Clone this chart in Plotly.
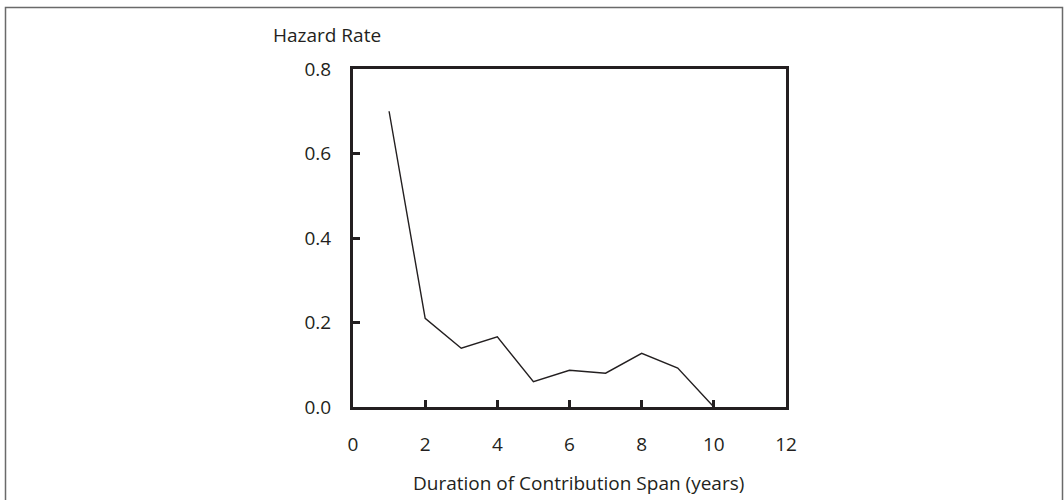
import plotly.graph_objects as go

years = [1, 2, 3, 4, 5, 6, 7, 8, 9, 10]
hazard = [0.70, 0.21, 0.139, 0.166, 0.060, 0.087, 0.080, 0.127, 0.092, 0.0]
x_ticks = [0, 2, 4, 6, 8, 10, 12]
y_ticks = [0.0, 0.2, 0.4, 0.6, 0.8]

W, H = 1064, 500
L, R, T, B = 353, 786, 69, 407
pw, ph = R - L, B - T
ink = "#231f20"
font = "Open Sans, Noto Sans, sans-serif"
fs = 19

fig = go.Figure()
fig.add_trace(go.Scatter(x=years, y=hazard, mode="lines",
                         line=dict(color=ink, width=1.4), showlegend=False))

fig.update_xaxes(range=[0, 12], tickvals=x_ticks, ticktext=[str(v) for v in x_ticks],
                 showline=True, linecolor=ink, linewidth=3, mirror=True,
                 ticks="inside", ticklen=7, tickwidth=3, tickcolor=ink,
                 showgrid=False, zeroline=False, ticklabelstandoff=18,
                 tickfont=dict(family=font, size=fs, color=ink))
fig.update_yaxes(range=[0, 0.8], tickvals=y_ticks, ticktext=[f"{v:.1f}" for v in y_ticks],
                 showline=True, linecolor=ink, linewidth=3, mirror=True,
                 ticks="inside", ticklen=7, tickwidth=3, tickcolor=ink,
                 showgrid=False, zeroline=False, ticklabelstandoff=15,
                 tickfont=dict(family=font, size=fs, color=ink))

def px_x(p):
    return (p - L) / pw

def px_y(p):
    return (B - p) / ph

fig.add_shape(type="rect", xref="paper", yref="paper",
              x0=px_x(5.5), x1=px_x(1062.5), y0=px_y(510), y1=px_y(7.5),
              line=dict(color="#6a6a6a", width=1.5), fillcolor="rgba(0,0,0,0)", layer="below")

fig.add_annotation(text="Hazard Rate", xref="paper", yref="paper",
                   x=px_x(327), y=px_y(35), showarrow=False,
                   font=dict(family=font, size=fs, color=ink), xanchor="center", yanchor="middle")
fig.add_annotation(text="Duration of Contribution Span (years)", xref="paper", yref="paper",
                   x=px_x(578), y=px_y(483), showarrow=False,
                   font=dict(family=font, size=fs, color=ink), xanchor="center", yanchor="middle")

fig.update_layout(width=W, height=H, margin=dict(l=L, r=W - R, t=T, b=H - B),
                  paper_bgcolor="white", plot_bgcolor="white")

fig.write_html("out.html", config={"displayModeBar": False},
               post_script="document.body.style.margin='0';")
